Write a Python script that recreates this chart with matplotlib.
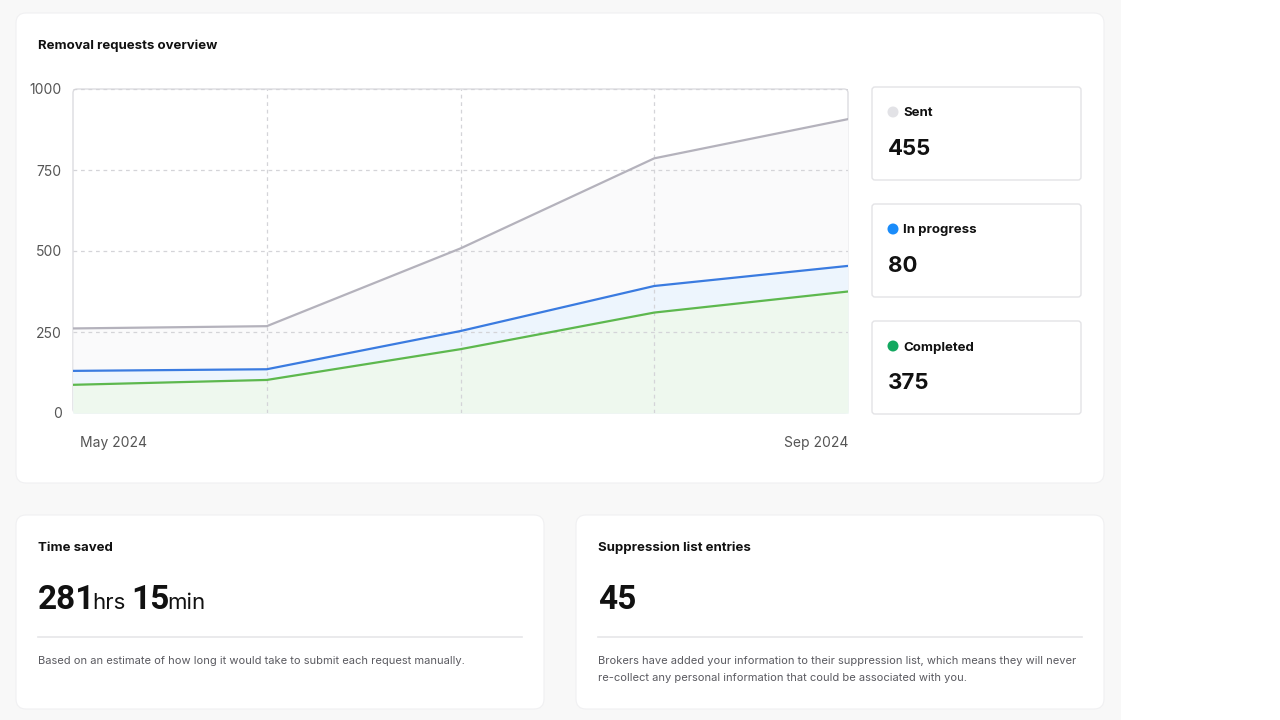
import matplotlib
matplotlib.use("Agg")
import matplotlib.pyplot as plt
from matplotlib.patches import FancyBboxPatch, Circle
import numpy as np

plt.rcParams['font.family'] = ['Inter', 'DejaVu Sans']

# ---- data ----
months = ["May 2024", "Jun 2024", "Jul 2024", "Aug 2024", "Sep 2024"]
sent = [261, 268, 508, 786, 907]
in_progress = [130, 135, 253, 392, 454]
completed = [87, 102, 197, 310, 375]
y_ticks = [0, 250, 500, 750, 1000]

summary_labels = ["Sent", "In progress", "Completed"]
summary_values = ["455", "80", "375"]
summary_colors = ["#e2e2e6", "#1a8cfa", "#13a860"]

W, H = 1280, 720
fig = plt.figure(figsize=(12.8, 7.2), dpi=100)
fig.patch.set_facecolor("white")

bg = fig.add_axes([0, 0, 1, 1])
bg.set_xlim(0, W)
bg.set_ylim(H, 0)
bg.axis("off")

# page background
bg.add_patch(plt.Rectangle((0, 0), 1121, H, facecolor="#f8f8f8", edgecolor="none", zorder=0))


def card(x0, y0, x1, y1, r=10, ec="none", lw=0, fc="white", z=1):
    bg.add_patch(FancyBboxPatch((x0 + r, y0 + r), (x1 - x0) - 2 * r, (y1 - y0) - 2 * r,
                                boxstyle=f"round,pad={r}", facecolor=fc, edgecolor=ec,
                                linewidth=lw, zorder=z))


card(16, 13, 1104, 483, r=10, ec="#f0f0f2", lw=0.8)
card(16, 515, 544, 709, r=10, ec="#f0f0f2", lw=0.8)
card(576, 515, 1104, 709, r=10, ec="#f0f0f2", lw=0.8)

bg.text(38, 46, "Removal requests overview", fontsize=9.5, fontweight="bold",
        color="#111111", va="center", ha="left", zorder=5)

# summary boxes
box_tops = [87, 204, 321]
for top, lab, val, col in zip(box_tops, summary_labels, summary_values, summary_colors):
    card(872, top, 1081, top + 93, r=3, ec="#e3e3e6", lw=1.0, z=2)
    bg.add_patch(Circle((893, top + 25), 5.5, facecolor=col, edgecolor="none", zorder=5))
    bg.text(903, top + 26.5, lab, fontsize=9.5, fontweight="bold", color="#111111",
            va="center", ha="left", zorder=5)
    bg.text(888, top + 62, val, fontsize=16, fontweight="bold", color="#111111",
            va="center", ha="left", zorder=5)

# bottom cards
bg.text(38, 548, "Time saved", fontsize=9.5, fontweight="bold", color="#111111",
        va="center", ha="left", zorder=5)
bg.text(598, 548, "Suppression list entries", fontsize=9.5, fontweight="bold",
        color="#111111", va="center", ha="left", zorder=5)

renderer = fig.canvas.get_renderer()
x = 38
base_y = 609
parts = [("281", 24, "bold", "Roboto", -3), ("hrs", 16, "normal", "Inter", 6),
         ("15", 24, "bold", "Roboto", -3), ("min", 16, "normal", "Inter", 0)]
for txt, fs, fw, fam, gap in parts:
    t = bg.text(x, base_y, txt, fontsize=fs, fontweight=fw, color="#111111",
                family=[fam, "DejaVu Sans"], va="baseline", ha="left", zorder=5)
    ext = t.get_window_extent(renderer=renderer)
    x = ext.x1 + gap
bg.text(598, 609, "45", fontsize=24, fontweight="bold", color="#111111",
        family=["Roboto", "DejaVu Sans"], va="baseline", ha="left", zorder=5)

bg.plot([38, 522], [636.5, 636.5], color="#e6e6e9", lw=1.2, zorder=5)
bg.plot([598, 1082], [636.5, 636.5], color="#e6e6e9", lw=1.2, zorder=5)

desc_fs = 8.0
bg.text(38, 661, "Based on an estimate of how long it would take to submit each request manually.",
        fontsize=desc_fs, color="#5a5a60", va="center", ha="left", zorder=5)
bg.text(598, 661, "Brokers have added your information to their suppression list, which means they will never",
        fontsize=desc_fs, color="#5a5a60", va="center", ha="left", zorder=5)
bg.text(598, 678, "re-collect any personal information that could be associated with you.",
        fontsize=desc_fs, color="#5a5a60", va="center", ha="left", zorder=5)

# chart area box
card(73, 89, 848, 413, r=4, ec="#dcdce0", lw=1.0, z=2)

# ---- chart ----
ax = fig.add_axes([73 / W, 1 - 413 / H, (848 - 73) / W, (413 - 89) / H])
ax.patch.set_alpha(0)
ax.set_zorder(3)
xs = np.arange(len(months))
ax.set_xlim(0, len(months) - 1)
ax.set_ylim(0, 1000)

ax.fill_between(xs, sent, 0, color="#fafafb", lw=0, zorder=1)
ax.fill_between(xs, in_progress, 0, color="#edf5fd", lw=0, zorder=1)
ax.fill_between(xs, completed, 0, color="#eef8ee", lw=0, zorder=1)

for xv in xs[1:-1]:
    ax.axvline(xv, color="#d4d4d8", lw=0.9, ls=(0, (3, 3)), zorder=2)
for yv in y_ticks[1:]:
    ax.axhline(yv, color="#d4d4d8", lw=0.9, ls=(0, (3, 3)), zorder=2)

ax.plot(xs, sent, color="#b4b2bc", lw=1.6, zorder=4)
ax.plot(xs, in_progress, color="#3a7be0", lw=1.6, zorder=4)
ax.plot(xs, completed, color="#5db84e", lw=1.6, zorder=4)

for s in ax.spines.values():
    s.set_visible(False)
ax.set_yticks(y_ticks)
ax.set_yticklabels([str(v) for v in y_ticks], fontsize=10, color="#555555")
ax.tick_params(axis="y", length=0, pad=8)
ax.set_xticks([])

bg.text(80, 442.5, months[0], fontsize=10, color="#555555", va="center", ha="left", zorder=5)
bg.text(848, 442.5, months[-1], fontsize=10, color="#555555", va="center", ha="right", zorder=5)

fig.savefig("out.png", dpi=100, facecolor="white")
